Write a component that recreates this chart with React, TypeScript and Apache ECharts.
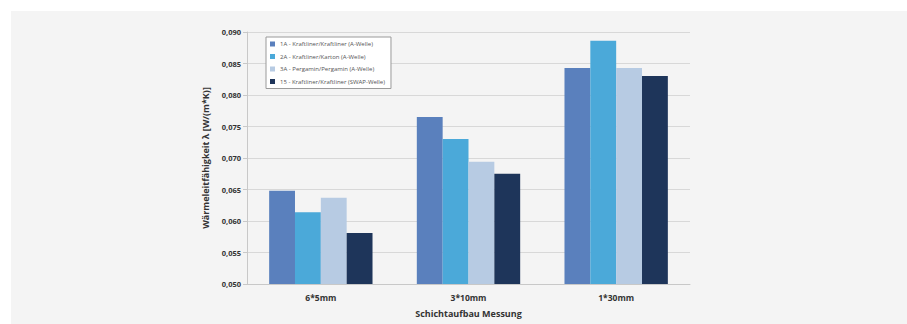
import React, { useEffect, useRef } from "react";
import * as echarts from "echarts";

const categories = ["6*5mm", "3*10mm", "1*30mm"];
const seriesNames = [
  "1A - Kraftliner/Kraftliner (A-Welle)",
  "2A - Kraftliner/Karton (A-Welle)",
  "3A - Pergamin/Pergamin (A-Welle)",
  "15 - Kraftliner/Kraftliner (SWAP-Welle)",
];
const s1 = [0.0648, 0.0765, 0.0843];
const s2 = [0.0614, 0.073, 0.0886];
const s3 = [0.0637, 0.0694, 0.0843];
const s4 = [0.0581, 0.0675, 0.083];
const colors = ["#5a80bd", "#4ba9d9", "#b7cbe3", "#1e355a"];

export default function App() {
  const ref = useRef<HTMLDivElement>(null);
  useEffect(() => {
    if (!ref.current) return;
    const chart = echarts.init(ref.current, null, { renderer: "svg" });
    const data = [s1, s2, s3, s4];
    chart.setOption({
      animation: false,
      grid: { left: 247, right: 217, top: 32, bottom: 40, containLabel: false, outerBoundsMode: "none" },
      legend: {
        orient: "vertical",
        left: 266,
        top: 37,
        width: 125,
        itemWidth: 5,
        itemHeight: 5,
        itemGap: 6.5,
        padding: [4, 6, 4, 4],
        backgroundColor: "#ffffff",
        borderColor: "#9a9a9a",
        borderWidth: 1,
        icon: "rect",
        textStyle: { fontSize: 6, color: "#555", fontFamily: "Open Sans" },
        data: seriesNames,
      },
      xAxis: {
        type: "category",
        data: categories,
        name: "Schichtaufbau Messung",
        nameLocation: "middle",
        nameGap: 25,
        nameTextStyle: { fontSize: 9, fontWeight: "bold", color: "#333", fontFamily: "Open Sans" },
        axisLine: { lineStyle: { color: "#c8c8c8" } },
        axisTick: { show: false },
        axisLabel: { margin: 9, fontSize: 8.5, fontWeight: "bold", color: "#333", fontFamily: "Open Sans" },
      },
      yAxis: {
        type: "value",
        min: 0.05,
        max: 0.09,
        interval: 0.005,
        name: "Wärmeleitfähigkeit λ [W/(m*K)]",
        nameLocation: "middle",
        nameGap: 37,
        nameTextStyle: { fontSize: 9, fontWeight: "bold", color: "#333", fontFamily: "Open Sans" },
        axisLine: { show: true, lineStyle: { color: "#c8c8c8" } },
        axisTick: { show: true, length: 4, lineStyle: { color: "#c8c8c8" } },
        splitLine: { lineStyle: { color: "#d8d8d8" } },
        axisLabel: {
          margin: 6,
          fontSize: 7.5,
          fontWeight: "bold",
          color: "#333",
          fontFamily: "Open Sans",
          formatter: (v: number) => v.toFixed(3).replace(".", ","),
        },
      },
      series: seriesNames.map((n, i) => ({
        name: n,
        type: "bar",
        data: data[i],
        barGap: "0%",
        barCategoryGap: "30%",
        itemStyle: { color: colors[i] },
      })),
    });
    return () => chart.dispose();
  }, []);
  return (
    <div style={{ position: "fixed", left: 0, top: 0, width: 907, height: 324, background: "#ffffff" }}>
      <div style={{ position: "absolute", left: 11, top: 11, width: 896, height: 313, background: "#f4f4f4" }} />
      <div ref={ref} style={{ position: "absolute", left: 0, top: 0, width: 907, height: 324 }} />
    </div>
  );
}
